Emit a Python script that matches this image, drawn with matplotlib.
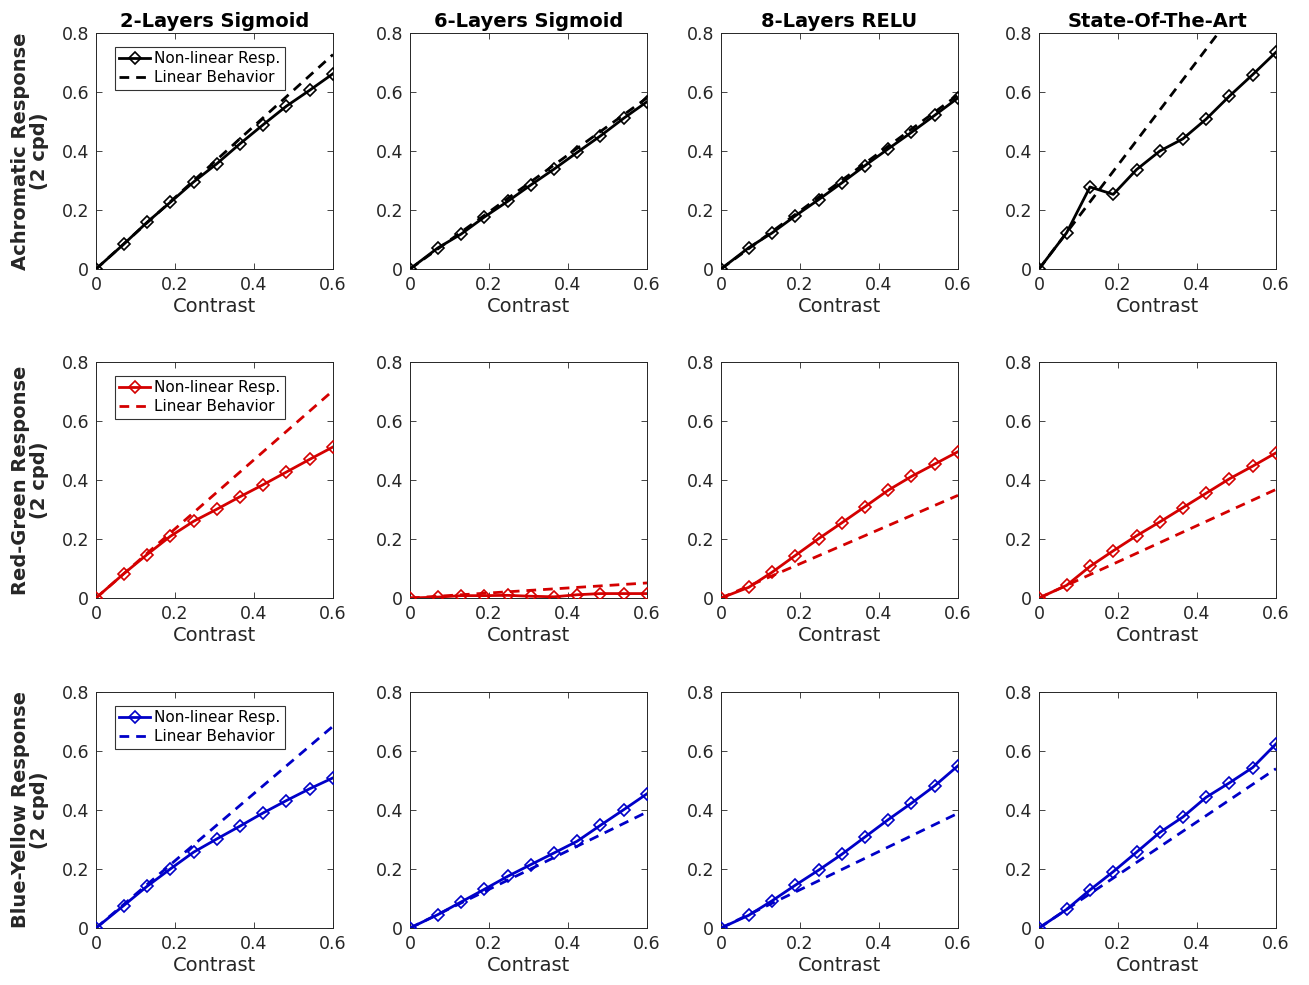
import matplotlib.pyplot as plt

contrast = [0, 0.07, 0.129, 0.188, 0.247, 0.306, 0.364, 0.423, 0.482, 0.541, 0.6]

models = ["2-Layers Sigmoid", "6-Layers Sigmoid", "8-Layers RELU", "State-Of-The-Art"]
row_labels = ["Achromatic Response\n(2 cpd)", "Red-Green Response\n(2 cpd)", "Blue-Yellow Response\n(2 cpd)"]
row_colors = ["black", "#d40000", "#0000c8"]

# non-linear responses, one list per model
achromatic = [
    [0, 0.084, 0.158, 0.226, 0.295, 0.357, 0.424, 0.489, 0.552, 0.606, 0.662],
    [0, 0.071, 0.118, 0.176, 0.229, 0.285, 0.338, 0.395, 0.451, 0.511, 0.567],
    [0, 0.072, 0.122, 0.180, 0.235, 0.292, 0.350, 0.407, 0.463, 0.521, 0.580],
    [0, 0.123, 0.278, 0.253, 0.337, 0.400, 0.441, 0.508, 0.586, 0.659, 0.735],
]
red_green = [
    [0, 0.082, 0.147, 0.209, 0.260, 0.301, 0.343, 0.384, 0.427, 0.470, 0.512],
    [0, 0.003, 0.008, 0.008, 0.009, 0.006, 0.004, 0.011, 0.015, 0.015, 0.015],
    [0, 0.036, 0.087, 0.144, 0.201, 0.255, 0.309, 0.365, 0.412, 0.454, 0.496],
    [0, 0.043, 0.107, 0.160, 0.211, 0.258, 0.306, 0.355, 0.404, 0.447, 0.492],
]
blue_yellow = [
    [0, 0.076, 0.141, 0.200, 0.257, 0.302, 0.345, 0.390, 0.432, 0.472, 0.509],
    [0, 0.045, 0.088, 0.131, 0.175, 0.215, 0.254, 0.294, 0.348, 0.401, 0.455],
    [0, 0.043, 0.092, 0.145, 0.196, 0.250, 0.308, 0.367, 0.423, 0.482, 0.550],
    [0, 0.063, 0.129, 0.191, 0.257, 0.324, 0.376, 0.443, 0.492, 0.544, 0.624],
]

# linear behaviour: straight line from 0 to this value at contrast 0.6
linear_end = [
    [0.727, 0.580, 0.590, 1.057],
    [0.703, 0.051, 0.348, 0.368],
    [0.684, 0.393, 0.389, 0.540],
]

responses = [achromatic, red_green, blue_yellow]

W, H = 1309, 985
col_left = [96, 410, 721, 1039]
row_top = [33, 362, 692]
ax_w, ax_h = 237, 236
txt = "#262626"

plt.rcParams["font.family"] = "DejaVu Sans"

fig = plt.figure(figsize=(W / 100, H / 100), dpi=100)

for r in range(3):
    for c in range(4):
        ax = fig.add_axes([col_left[c] / W, 1 - (row_top[r] + ax_h) / H, ax_w / W, ax_h / H])
        col = row_colors[r]
        ax.plot(contrast, responses[r][c], "-", marker="D", color=col, lw=2,
                ms=6.5, mfc="none", mew=1.2, label="Non-linear Resp.", zorder=3)
        ax.plot([0, 0.6], [0, linear_end[r][c]], "--", color=col, lw=2,
                dashes=(3.5, 2.5), label="Linear Behavior", zorder=2)
        ax.set_xlim(0, 0.6)
        ax.set_ylim(0, 0.8)
        ax.set_xticks([0, 0.2, 0.4, 0.6])
        ax.set_xticklabels(["0", "0.2", "0.4", "0.6"])
        ax.set_yticks([0, 0.2, 0.4, 0.6, 0.8])
        ax.set_yticklabels(["0", "0.2", "0.4", "0.6", "0.8"])
        ax.tick_params(direction="in", top=True, right=True, labelsize=12.5,
                       colors=txt, length=4, width=0.6, pad=5)
        for s in ax.spines.values():
            s.set_color(txt)
            s.set_linewidth(0.7)
        ax.set_xlabel("Contrast", fontsize=14, color=txt, labelpad=2)
        if r == 0:
            ax.set_title(models[c], fontsize=14, fontweight="bold", color="black", pad=4)
        if c == 0:
            ax.set_ylabel(row_labels[r], fontsize=14, fontweight="bold", color=txt,
                          labelpad=9, linespacing=1.0)
            leg = ax.legend(loc="upper left", fontsize=11, frameon=True, fancybox=False,
                            edgecolor="black", borderaxespad=0.6, handlelength=2.0,
                            handletextpad=0.3, borderpad=0.3, labelspacing=0.25,
                            bbox_to_anchor=(0.04, 0.98))
            leg.get_frame().set_linewidth(0.8)

fig.savefig("out.png", dpi=100, facecolor="white")
